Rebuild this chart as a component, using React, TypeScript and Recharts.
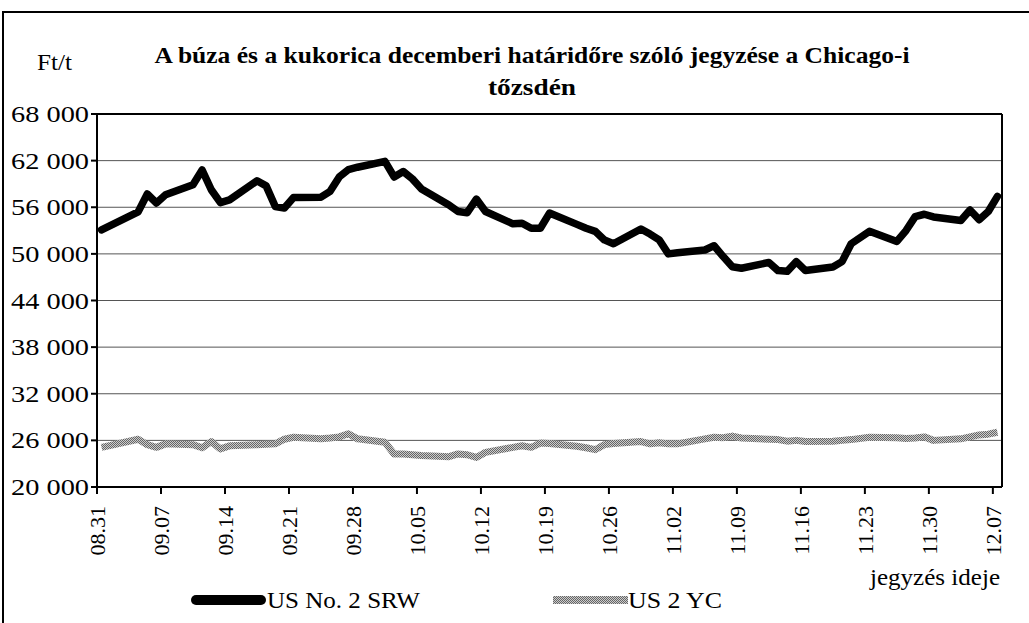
import React from "react";
import {
  LineChart,
  Line,
  XAxis,
  YAxis,
  CartesianGrid,
  ReferenceLine,
} from "recharts";

// trading days (mm.dd)
const dates = [
  "08.31", "09.04", "09.05", "09.06", "09.07",
  "09.10", "09.11", "09.12", "09.13", "09.14",
  "09.17", "09.18", "09.19", "09.20", "09.21",
  "09.24", "09.25", "09.26", "09.27", "09.28",
  "10.01", "10.02", "10.03", "10.04", "10.05",
  "10.08", "10.09", "10.10", "10.11", "10.12",
  "10.15", "10.16", "10.17", "10.18", "10.19",
  "10.22", "10.23", "10.24", "10.25", "10.26",
  "10.29", "10.30", "10.31", "11.01", "11.02",
  "11.05", "11.06", "11.07", "11.08", "11.09",
  "11.12", "11.13", "11.14", "11.15", "11.16",
  "11.19", "11.20", "11.21", "11.23",
  "11.26", "11.27", "11.28", "11.29", "11.30",
  "12.03", "12.04", "12.05", "12.06", "12.07",
];

// US No. 2 SRW (Ft/t)
const srw = [
  53100, 55400, 57700, 56550, 57600,
  58900, 60800, 58250, 56600, 56950,
  59400, 58750, 56100, 55900, 57250,
  57300, 58050, 59900, 60850, 61150,
  61900, 59900, 60600, 59650, 58350,
  56300, 55450, 55300, 57050, 55450,
  53870, 53950, 53300, 53300, 55250,
  53800, 53300, 52900, 51800, 51300,
  53200, 52550, 51800, 50000, 50150,
  50500, 51050, 49650, 48350, 48150,
  48900, 47850, 47750, 49000, 47850,
  48300, 49000, 51300, 52900,
  51600, 53000, 54800, 55100, 54750,
  54300, 55650, 54400, 55450, 57400,
];

// US 2 YC (Ft/t)
const yc = [
  25100, 26150, 25450, 25100, 25550,
  25450, 25050, 25850, 24900, 25300,
  25450, 25500, 25550, 26150, 26400,
  26200, 26300, 26450, 26850, 26200,
  25750, 24250, 24250, 24150, 24050,
  23900, 24250, 24150, 23800, 24450,
  25100, 25300, 25100, 25650, 25600,
  25250, 25050, 24800, 25450, 25600,
  25850, 25550, 25700, 25550, 25550,
  26200, 26400, 26350, 26550, 26300,
  26150, 26100, 25900, 26000, 25850,
  25900, 26000, 26100, 26400,
  26350, 26250, 26300, 26450, 26000,
  26200, 26450, 26700, 26800, 27050,
];

const tickLabels = [
  "08.31", "09.07", "09.14", "09.21", "09.28", "10.05", "10.12", "10.19",
  "10.26", "11.02", "11.09", "11.16", "11.23", "11.30", "12.07",
];

const yTicks = [20000, 26000, 32000, 38000, 44000, 50000, 56000, 62000, 68000];

const seriesNames = ["US No. 2 SRW", "US 2 YC"];

const FONT = '"Liberation Serif", "Times New Roman", serif';

// days counted from 08.31
const monthStart: Record<number, number> = { 8: -31, 9: 0, 10: 30, 11: 61, 12: 91 };
const dayIndex = (s: string) => {
  const [m, d] = s.split(".").map(Number);
  return monthStart[m] + d;
};

const rows = dates.map((d, i) => ({
  x: dayIndex(d) + 0.5,
  srw: srw[i],
  yc: yc[i],
}));

const xTicks = tickLabels.map(dayIndex);

const fmt = (v: number) => String(v).replace(/\B(?=(\d{3})+(?!\d))/g, " ");

const YTick = (props: any) => {
  const { x, y, payload } = props;
  return (
    <text
      x={x}
      y={y}
      dy={8}
      textAnchor="end"
      fontSize={24}
      fontFamily={FONT}
      fill="#000"
      textLength={78}
      lengthAdjust="spacingAndGlyphs"
    >
      {fmt(payload.value)}
    </text>
  );
};

const XTick = (props: any) => {
  const { x, y, payload } = props;
  const label = tickLabels[xTicks.indexOf(payload.value)] ?? "";
  return (
    <g transform={`translate(${x},${y})`}>
      <text
        transform="rotate(-90)"
        x={-(506 - y)}
        y={0}
        dy="0.35em"
        textAnchor="end"
        fontSize={22}
        fontFamily={FONT}
        fill="#000"
      >
        {label}
      </text>
    </g>
  );
};

export default function App() {
  return (
    <div
      style={{
        position: "absolute",
        left: 0,
        top: 0,
        width: 1029,
        height: 623,
        overflow: "hidden",
        background: "#fff",
        fontFamily: FONT,
      }}
    >
      <svg width={0} height={0} style={{ position: "absolute" }}>
        <defs>
          <pattern id="ycHatch" width="2" height="2" patternUnits="userSpaceOnUse">
            <rect width="2" height="2" fill="#cccccc" />
            <rect width="1" height="1" fill="#666666" />
            <rect x="1" y="1" width="1" height="1" fill="#666666" />
          </pattern>
        </defs>
      </svg>
      <div
        style={{
          position: "absolute",
          left: 2,
          top: 11,
          width: 1100,
          height: 700,
          border: "2px solid #000",
        }}
      />
      <div style={{ position: "absolute", left: 0, top: 0 }}>
        <LineChart
          width={1029}
          height={623}
          data={rows}
          margin={{ top: 114, right: 27, bottom: 76, left: 0 }}
        >
          <CartesianGrid vertical={false} stroke="#555" strokeWidth={1} />
          <XAxis
            dataKey="x"
            type="number"
            domain={[0, 99]}
            ticks={xTicks}
            interval={0}
            height={60}
            tickSize={7}
            axisLine={{ stroke: "#000", strokeWidth: 2 }}
            tickLine={{ stroke: "#000", strokeWidth: 2 }}
            tick={<XTick />}
          />
          <YAxis
            type="number"
            domain={[20000, 68000]}
            ticks={yTicks}
            interval={0}
            width={97}
            tickSize={6}
            tickMargin={2}
            axisLine={{ stroke: "#000", strokeWidth: 2 }}
            tickLine={{ stroke: "#000", strokeWidth: 2 }}
            tick={<YTick />}
          />
          <ReferenceLine y={68000} stroke="#000" strokeWidth={2} />
          <ReferenceLine x={99} stroke="#000" strokeWidth={2} />
          <Line
            dataKey="yc"
            name={seriesNames[1]}
            type="linear"
            stroke="url(#ycHatch)"
            strokeWidth={7}
            strokeLinejoin="round"
            dot={false}
            isAnimationActive={false}
          />
          <Line
            dataKey="srw"
            name={seriesNames[0]}
            type="linear"
            stroke="#000"
            strokeWidth={7.5}
            strokeLinejoin="round"
            strokeLinecap="round"
            dot={false}
            isAnimationActive={false}
          />
        </LineChart>
      </div>
      <svg
        width={1029}
        height={623}
        style={{ position: "absolute", left: 0, top: 0, pointerEvents: "none" }}
        fontFamily={FONT}
      >
        <text x={532} y={63} textAnchor="middle" fontSize={24} fontWeight="bold" textLength={755} lengthAdjust="spacingAndGlyphs">
          A búza és a kukorica decemberi határidőre szóló jegyzése a Chicago-i
        </text>
        <text x={532} y={95} textAnchor="middle" fontSize={24} fontWeight="bold" textLength={88} lengthAdjust="spacingAndGlyphs">
          tőzsdén
        </text>
        <text x={37} y={70} fontSize={24} textLength={35} lengthAdjust="spacingAndGlyphs">
          Ft/t
        </text>
        <line x1={196} y1={600} x2={261} y2={600} stroke="#000" strokeWidth={10} strokeLinecap="round" />
        <text x={267} y={608} fontSize={24} textLength={153} lengthAdjust="spacingAndGlyphs">
          {seriesNames[0]}
        </text>
        <rect x={553} y={596} width={75} height={8} fill="url(#ycHatch)" />
        <text x={628} y={608} fontSize={24} textLength={94} lengthAdjust="spacingAndGlyphs">
          {seriesNames[1]}
        </text>
        <text x={870} y={585} fontSize={23} textLength={130} lengthAdjust="spacingAndGlyphs">
          jegyzés ideje
        </text>
      </svg>
    </div>
  );
}
